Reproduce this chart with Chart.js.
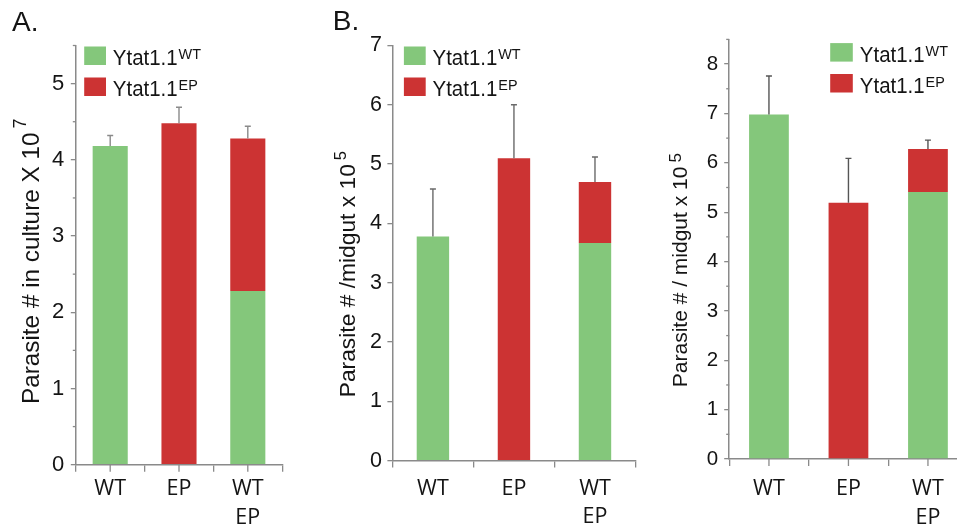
<!DOCTYPE html>
<html><head><meta charset="utf-8">
<script src="https://cdn.jsdelivr.net/npm/chart.js@4.4.1/dist/chart.umd.min.js"></script>
<style>
html,body{margin:0;padding:0;width:957px;height:528px;overflow:hidden;background:#fff;}
.wrap{position:absolute;top:0;height:528px;}
</style></head>
<body>
<div class="wrap" style="left:0;width:320px"><canvas id="cA"></canvas></div>
<div class="wrap" style="left:320px;width:320px"><canvas id="cB"></canvas></div>
<div class="wrap" style="left:640px;width:330px"><canvas id="cC"></canvas></div>
<script>
// ---- data ----
const categories = [['WT'], ['EP'], ['WT', 'EP']];
const seriesLabels = ['Ytat1.1', 'Ytat1.1'];
const seriesSup = ['WT', 'EP'];

// Panel A: parasites in culture (x 10^7)
const cultureWT  = [4.18, null, 2.28];
const cultureEP  = [null, 4.48, 2.00];
const cultureErr = [0.14, 0.21, 0.16];

// Panel B (left): parasites per midgut (x 10^5)
const midgutAWT  = [3.78, null, 3.67];
const midgutAEP  = [null, 5.10, 1.03];
const midgutAErr = [0.80, 0.90, 0.42];

// Panel B (right): parasites per midgut (x 10^5)
const midgutBWT  = [6.98, null, 5.41];
const midgutBEP  = [null, 5.19, 0.87];
const midgutBErr = [0.78, 0.90, 0.18];

const GREEN = '#84c77b', RED = '#cc3333', AXIS = '#8a8a8a', TXT = '#141414';
const SANS = '"Liberation Sans", Arial, sans-serif';

const isInt = v => Math.abs(v - Math.round(v)) < 1e-6;

const errorBars = {
  id: 'errorBars',
  afterDatasetsDraw(chart, args, o) {
    const {ctx, scales: {x, y}} = chart;
    const ds = chart.data.datasets;
    ctx.save();
    ctx.strokeStyle = o.color; ctx.lineWidth = o.width;
    o.errors.forEach((e, i) => {
      const total = ds.reduce((s, d) => s + (d.data[i] || 0), 0);
      const px = x.getPixelForValue(i);
      const y0 = y.getPixelForValue(total), y1 = y.getPixelForValue(total + e);
      ctx.beginPath();
      ctx.moveTo(px, y0); ctx.lineTo(px, y1);
      ctx.moveTo(px - o.cap, y1); ctx.lineTo(px + o.cap, y1);
      ctx.stroke();
    });
    ctx.restore();
  }
};

const extraTicks = {
  id: 'extraTicks',
  afterDraw(chart, args, o) {
    const {ctx, scales: {x, y}, chartArea} = chart;
    ctx.save();
    ctx.strokeStyle = AXIS; ctx.lineWidth = 1.3;
    if (o.center) {
      chart.data.labels.forEach((l, i) => {
        const px = x.getPixelForValue(i);
        ctx.beginPath(); ctx.moveTo(px, chartArea.bottom); ctx.lineTo(px, chartArea.bottom + o.len); ctx.stroke();
      });
    }
    if (o.minor) {
      y.ticks.forEach(t => {
        if (isInt(t.value)) return;
        const py = y.getPixelForValue(t.value);
        ctx.beginPath(); ctx.moveTo(chartArea.left - o.minorLen, py); ctx.lineTo(chartArea.left, py); ctx.stroke();
      });
    }
    ctx.restore();
  }
};

const overlay = {
  id: 'overlay',
  afterDraw(chart, args, o) {
    const ctx = chart.ctx;
    ctx.save();
    ctx.fillStyle = TXT;
    ctx.textBaseline = 'alphabetic';
    ctx.textAlign = 'left';
    if (o.letter) {
      ctx.font = o.letterSize + 'px ' + SANS;
      ctx.fillText(o.letter, o.letterX, o.letterY);
    }
    // legend
    const L = o.legend;
    [GREEN, RED].forEach((c, i) => {
      const top = L.y + i * L.gap;
      ctx.fillStyle = c;
      ctx.fillRect(L.x, top, L.sw, L.sh);
      ctx.fillStyle = TXT;
      const tx = L.x + L.sw + L.pad;
      ctx.save();
      ctx.translate(tx, top + L.sh);
      ctx.scale(L.sx, 1);
      ctx.font = L.size + 'px ' + SANS;
      ctx.fillText(seriesLabels[i], 0, 0);
      const w = ctx.measureText(seriesLabels[i]).width;
      ctx.font = L.supSize + 'px ' + SANS;
      ctx.fillText(seriesSup[i], w + 1, -L.supRise);
      ctx.restore();
    });
    // rotated y title
    const T = o.title;
    ctx.translate(T.x, T.y);
    ctx.rotate(-Math.PI / 2);
    ctx.font = T.size + 'px ' + SANS;
    ctx.fillText(T.text, 0, 0);
    const tw = ctx.measureText(T.text).width;
    ctx.font = T.supSize + 'px ' + SANS;
    ctx.fillText(T.sup, tw + T.supGap, -T.supRise);
    ctx.restore();
  }
};

function makeChart(id, wt, ep, err, p) {
  return new Chart(document.getElementById(id), {
    type: 'bar',
    data: {
      labels: categories,
      datasets: [
        {label: seriesLabels[0] + seriesSup[0], data: wt, backgroundColor: GREEN, borderWidth: 0,
         barPercentage: 1, categoryPercentage: p.barFrac},
        {label: seriesLabels[1] + seriesSup[1], data: ep, backgroundColor: RED, borderWidth: 0,
         barPercentage: 1, categoryPercentage: p.barFrac}
      ]
    },
    options: {
      responsive: true, maintainAspectRatio: false, animation: false,
      layout: {padding: {left: 0, right: p.padRight, top: p.padTop, bottom: 0}},
      plugins: {
        legend: {display: false}, tooltip: {enabled: false},
        errorBars: {errors: err, color: p.errColor, width: 1.4, cap: 3},
        extraTicks: {center: p.centerTicks, len: 7, minor: p.minor, minorLen: 3},
        overlay: p.overlay
      },
      scales: {
        x: {
          stacked: true, offset: true,
          grid: {offset: true, drawOnChartArea: false, tickLength: 7, color: AXIS, lineWidth: 1.3},
          border: {display: true, color: AXIS, width: 1.5},
          ticks: {font: {family: 'Open Sans', size: 21.5, lineHeight: 1.326}, color: TXT, padding: p.xPad,
                  maxRotation: 0, autoSkip: false},
          afterFit: s => { s.height = p.xHeight; }
        },
        y: {
          stacked: true, min: 0, max: p.max,
          grid: {drawOnChartArea: false, tickLength: 5, lineWidth: 1.3,
                 color: AXIS,
                 tickColor: c => (c.tick && isInt(c.tick.value)) ? AXIS : 'rgba(0,0,0,0)'},
          border: {display: true, color: AXIS, width: 1.5},
          ticks: {stepSize: p.step, autoSkip: false, font: {family: SANS, size: p.tickSize}, color: TXT,
                  padding: p.tickPad, callback: v => isInt(v) ? String(Math.round(v)) : ''},
          afterFit: s => { s.width = p.yWidth; }
        }
      }
    },
    plugins: [errorBars, extraTicks, overlay]
  });
}

makeChart('cA', cultureWT, cultureEP, cultureErr, {
  barFrac: 0.51, padRight: 37.8, padTop: 45.5, xHeight: 63.3, yWidth: 75.8, max: 5.5, step: 0.5,
  tickSize: 22, tickPad: 6.5, xPad: 3, errColor: '#8a8a8a', centerTicks: true, minor: true,
  overlay: {
    letter: 'A.', letterX: 12, letterY: 30.5, letterSize: 28,
    legend: {x: 84.2, y: 46.5, gap: 31, sw: 21.8, sh: 18.5, pad: 6.8, size: 22, sx: 0.93, supSize: 15.5, supRise: 6},
    title: {x: 38.7, y: 404, size: 24.3, text: 'Parasite # in culture X 10', sup: '7', supSize: 18, supGap: 4, supRise: 13}
  }
});

makeChart('cB', midgutAWT, midgutAEP, midgutAErr, {
  barFrac: 0.4, padRight: 4.5, padTop: 45.5, xHeight: 67.4, yWidth: 72.4, max: 7, step: 1,
  tickSize: 21.5, tickPad: 5.5, xPad: 7, errColor: '#6a6a6a', centerTicks: false, minor: false,
  overlay: {
    letter: 'B.', letterX: 12.7, letterY: 30, letterSize: 28,
    legend: {x: 83.9, y: 46.5, gap: 31, sw: 21.8, sh: 18.5, pad: 6.8, size: 22, sx: 0.93, supSize: 15.5, supRise: 6},
    title: {x: 35.4, y: 397.3, size: 22.8, text: 'Parasite # /midgut x 10', sup: '5', supSize: 16.5, supGap: 4, supRise: 9}
  }
});

makeChart('cC', midgutBWT, midgutBEP, midgutBErr, {
  barFrac: 0.5, padRight: 2.3, padTop: 39.4, xHeight: 69, yWidth: 89.2, max: 8.5, step: 0.5,
  tickSize: 20.5, tickPad: 6, xPad: 8.7, errColor: '#555555', centerTicks: true, minor: true,
  overlay: {
    letter: '', letterX: 0, letterY: 0, letterSize: 28,
    legend: {x: 190.2, y: 43.1, gap: 30.9, sw: 22.6, sh: 18.5, pad: 7, size: 22, sx: 0.93, supSize: 15.5, supRise: 6},
    title: {x: 47, y: 387.2, size: 21, text: 'Parasite # / midgut x 10', sup: '5', supSize: 17, supGap: 4, supRise: 6}
  }
});
</script>
</body></html>
